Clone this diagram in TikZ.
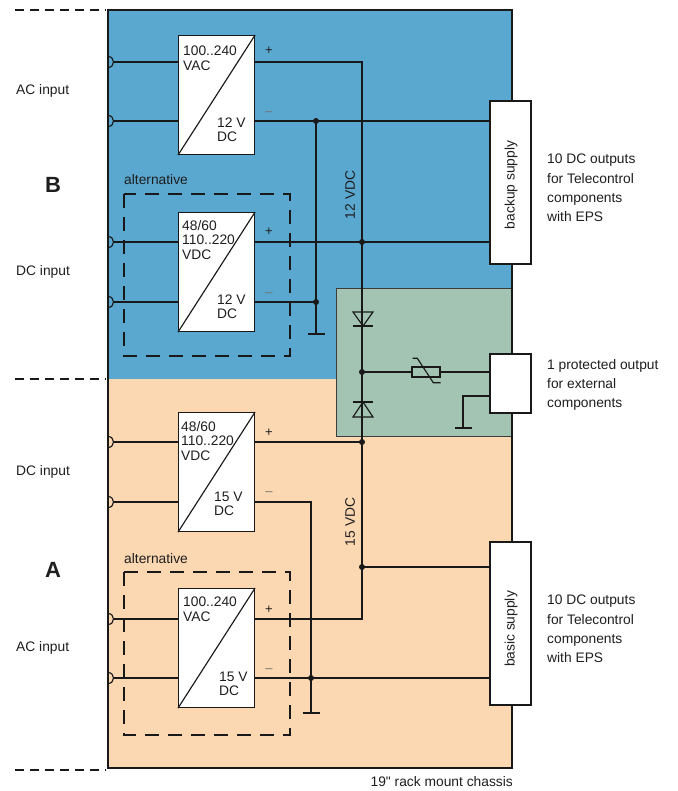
\documentclass[tikz,border=0pt]{standalone}
\usepackage{fontspec}
\setmainfont{Liberation Sans}
\definecolor{bblue}{RGB}{90,167,208}
\definecolor{apeach}{RGB}{252,216,178}
\definecolor{pgreen}{RGB}{163,196,178}
\definecolor{ink}{RGB}{25,25,25}
\definecolor{txt}{RGB}{30,30,30}
\begin{document}
\begin{tikzpicture}[x=1pt,y=-1pt,
  font=\fontsize{13.8}{19.3}\selectfont,
  every node/.style={text=txt},
  conv/.style={draw=ink, fill=white, line width=1.1pt, minimum width=76pt, minimum height=119pt, inner sep=0pt, anchor=north west},
  outbox/.style={draw=ink, fill=white, line width=1.1pt, minimum width=41pt, inner sep=0pt},
  wire/.style={draw=ink, line width=1.15pt},
  dot/.style={circle, fill=ink, inner sep=0pt, minimum size=6pt},
  altbox/.style={draw=ink, line width=1.2pt, dash pattern=on 14pt off 9pt},
  sepline/.style={draw=ink, line width=1.2pt, dash pattern=on 9pt off 6pt},
  ctext/.style={align=left, inner sep=0pt, font=\fontsize{13.8}{14.5}\selectfont},
  sign/.style={inner sep=0pt, font=\fontsize{13}{13}\selectfont},
  rtext/.style={align=left, inner sep=0pt, anchor=north west},
  side/.style={inner sep=0pt, anchor=base west},
  big/.style={inner sep=0pt, anchor=base west, font=\fontsize{22}{22}\selectfont\bfseries}
]
\useasboundingbox (0,0) rectangle (677,791);
% backgrounds
\fill[bblue] (108,10) rectangle (512,379);
\fill[apeach] (108,379) rectangle (512,768);
\filldraw[fill=pgreen, draw=ink!85, line width=0.9pt] (512,288) -- (336,288) -- (336,436) -- (512,436);
% chassis
\draw[ink, line width=2.8pt] (108,10) rectangle (512,768);
% separators
\draw[sepline] (15,10) -- (106,10);
\draw[sepline] (15,379) -- (106,379);
\draw[sepline] (15,770) -- (106,770);
% alternative boxes
\draw[altbox] (124,194) rectangle (290,356);
\draw[altbox] (124,572) rectangle (290,735);
\node[inner sep=0pt, anchor=base west] (alt1) at (124,185) {alternative};
\node[inner sep=0pt, anchor=base west] (alt2) at (124,563) {alternative};

% input coordinates
\foreach \n/\y in {i1/62,i2/121,i3/242,i4/302,i5/442,i6/502,i7/619,i8/678}{
  \coordinate (\n) at (108,\y);
  \coordinate (\n e) at (113.5,\y);
  \draw[wire] (108,\y-5.5) .. controls (115.3,\y-5.5) and (115.3,\y+5.5) .. (108,\y+5.5);
}
% converters
\node[conv] (cb1) at (178,35) {};
\node[conv] (cb2) at (178,212) {};
\node[conv] (ca1) at (178,412) {};
\node[conv] (ca2) at (178,588) {};
% output boxes
\node[outbox, minimum height=163pt] (bk) at (510.5,182.5) {};
\node[outbox, minimum height=59pt] (pr) at (510.5,383.5) {};
\node[outbox, minimum height=163pt] (bs) at (510.5,623.5) {};

% junction coordinates
\coordinate (busT) at (362,62);
\coordinate (busB) at (362,619);
\coordinate (g1top) at (316,121);
\coordinate (g1) at (316,334);
\coordinate (g2top) at (311,502);
\coordinate (g2) at (311,713);
\coordinate (mid) at (362,372);
\coordinate (j12) at (362,242);
\coordinate (j15) at (362,442);
\coordinate (jbs) at (362,567);
\coordinate (jbm) at (311,678);
\coordinate (jbk) at (316,302);
\coordinate (gp) at (463,396);
\coordinate (gpb) at (463,428);

\foreach \n in {i1,i2}{\draw[wire] (\n e) -- (cb1.west |- \n);}
\foreach \n in {i3,i4}{\draw[wire] (\n e) -- (cb2.west |- \n);}
\foreach \n in {i5,i6}{\draw[wire] (\n e) -- (ca1.west |- \n);}
\foreach \n in {i7,i8}{\draw[wire] (\n e) -- (ca2.west |- \n);}
% bus
\draw[wire] (cb1.east |- busT) -- (busT) -- (busB) -- (ca2.east |- busB);
% B minus
\draw[wire] (cb1.east |- g1top) -- (bk.west |- g1top);
\draw[wire] (g1top) -- (g1);
\draw[wire] ([xshift=-8.5pt]g1) -- ([xshift=8.5pt]g1);
\draw[wire] (cb2.east |- j12) -- (bk.west |- j12);
\draw[wire] (cb2.east |- jbk) -- (jbk);
% A
\draw[wire] (ca1.east |- j15) -- (j15);
\draw[wire] (ca1.east |- g2top) -- (g2top) -- (g2);
\draw[wire] ([xshift=-8.5pt]g2) -- ([xshift=8.5pt]g2);
\draw[wire] (jbs) -- (bs.west |- jbs);
\draw[wire] (ca2.east |- jbm) -- (bs.west |- jbm);
% protected output
\coordinate (ptcL) at (412,372);
\coordinate (ptcR) at (440,372);
\draw[wire] (mid) -- (ptcL);
\draw[wire] (ptcR) -- (pr.west |- mid);
\draw[wire, fill=pgreen] (412,367) rectangle (440,377);
\draw[wire] (412.7,358.3) -- (417.3,358.3) -- (433.3,382.7) -- (440.7,382.7);
\draw[wire] (pr.west |- gp) -- (gp) -- (gpb);
\draw[wire] ([xshift=-8.5pt]gpb) -- ([xshift=8.5pt]gpb);
% diodes
\draw[wire, line join=miter] (353,312) -- (373,312) -- (363,326) -- cycle;
\draw[wire] (353,326) -- (373,326);
\draw[wire, line join=miter] (363,402) -- (353,417) -- (373,417) -- cycle;
\draw[wire] (353,402) -- (373,402);

% redraw converters and boxes on top
\node[conv] at (178,35) {};
\node[conv] at (178,212) {};
\node[conv] at (178,412) {};
\node[conv] at (178,588) {};
\node[outbox, minimum height=163pt] at (510.5,182.5) {};
\node[outbox, minimum height=59pt] at (510.5,383.5) {};
\node[outbox, minimum height=163pt] at (510.5,623.5) {};
\foreach \c in {cb1,cb2,ca1,ca2}{\draw[wire] (\c.south west) -- (\c.north east);}

% dots
\foreach \p in {g1top,j12,jbk,mid,j15,jbs,jbm}{\node[dot] at (\p) {};}

% converter texts
\node[ctext, anchor=north west] (t1a) at (183,46) {100..240\\VAC};
\node[ctext, anchor=south west] (t1b) at (217,142) {12 V\\DC};
\node[ctext, anchor=north west] (t2a) at (182,220) {48/60\\110..220\\VDC};
\node[ctext, anchor=south west] (t2b) at (217,319) {12 V\\DC};
\node[ctext, anchor=north west] (t3a) at (181,421) {48/60\\110..220\\VDC};
\node[ctext, anchor=south west] (t3b) at (214,516) {15 V\\DC};
\node[ctext, anchor=north west] (t4a) at (183,597) {100..240\\VAC};
\node[ctext, anchor=south west] (t4b) at (219,696) {15 V\\DC};
% signs
\foreach \y/\n in {51/p1,232/p2,433/p3,610/p4}{\node[sign] (\n) at (269,\y) {+};}
\foreach \y/\n in {114/m1,295/m2,494/m3,671/m4}{\node[sign, text=black!55] (\n) at (269,\y) {–};}

% rotated labels
\node[rotate=90, inner sep=0pt] (v12) at (350,195) {12 VDC};
\node[rotate=90, inner sep=0pt] (v15) at (350,522) {15 VDC};
\node[rotate=90, inner sep=0pt] (bkt) at (511,185) {backup supply};
\node[rotate=90, inner sep=0pt] (bst) at (511,629) {basic supply};

% right texts
\node[rtext] (r1) at (547,154) {10 DC outputs\\for Telecontrol\\components\\with EPS};
\node[rtext] (r2) at (547,359) {1 protected output\\for external\\components};
\node[rtext] (r3) at (547,595) {10 DC outputs\\for Telecontrol\\components\\with EPS};

% left texts
\node[side] (lac1) at (16,94.5) {AC input};
\node[big] (lB) at (45,193) {B};
\node[side] (ldc1) at (16,275) {DC input};
\node[side] (ldc2) at (16,475) {DC input};
\node[big] (lA) at (45,577) {A};
\node[side] (lac2) at (16,651) {AC input};

\node[inner sep=0pt, anchor=base east] (chas) at (513,786) {19\textquotedbl{} rack mount chassis};
\end{tikzpicture}
\end{document}
